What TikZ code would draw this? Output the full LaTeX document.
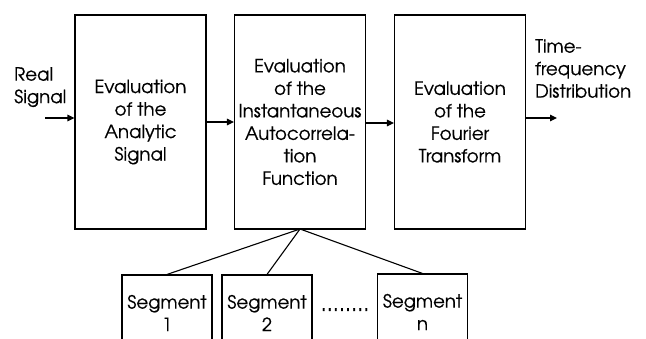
\documentclass[tikz,border=0pt]{standalone}
\usepackage{fontspec}
\setmainfont{TeX Gyre Adventor}[BoldFont={TeX Gyre Adventor}, BoldFeatures={FakeBold=0.6}]
\usetikzlibrary{arrows.meta}
\begin{document}
\begin{tikzpicture}[x=1pt,y=-1pt,
  every node/.style={font=\fontsize{18.2}{22.5}\selectfont\bfseries, text=black},
  bigbox/.style={draw, line width=1.1pt, inner sep=0pt, minimum width=131pt, minimum height=214pt, align=center},
  segbox/.style={draw, line width=1.1pt, inner sep=0pt, minimum width=90pt, minimum height=76pt, align=center},
  lbl/.style={inner sep=0pt, align=left, anchor=north west},
  conn/.style={line width=1.1pt, -{Triangle[length=7pt,width=6.5pt]}},
  link/.style={line width=1.1pt}]
\useasboundingbox (0,0) rectangle (646,339);
\clip (0,0) rectangle (646,339);
\node[bigbox] (b1) at (140.5,122) {Evaluation\\of the\\Analytic\\Signal};
\node[bigbox] (b2) at (300,122) {Evaluation\\of the\\Instantaneous\\Autocorrela-\\tion\\Function};
\node[bigbox] (b3) at (460,122) {Evaluation\\of the\\Fourier\\Transform};
\node[lbl] (in) at (14,67) {Real\\Signal};
\node[lbl] (out) at (535,39) {Time-\\frequency\\Distribution};
\coordinate (inS) at (45,118);
\coordinate (outE) at (557,118);
\draw[conn] (inS) -- (b1.west |- inS);
\draw[conn] (b1.east |- 0,122) -- (b2.west |- 0,122);
\draw[conn] (b2.east |- 0,123) -- (b3.west |- 0,123);
\draw[conn] (b3.east |- outE) -- (outE);
\node[segbox] (s1) at (167,313) {Segment\\1};
\node[segbox] (s2) at (267,313) {Segment\\2};
\node[segbox] (sn) at (422.5,312) {Segment\\n};
\node[inner sep=0pt, anchor=base, font=\fontsize{22}{22}\selectfont\bfseries] (dots) at (345,311) {........};
\coordinate (hub) at (300,229);
\draw[link] (hub) -- (s1.north);
\draw[link] (hub) -- (s2.north);
\draw[link] (hub) -- (sn.north);
\end{tikzpicture}
\end{document}
